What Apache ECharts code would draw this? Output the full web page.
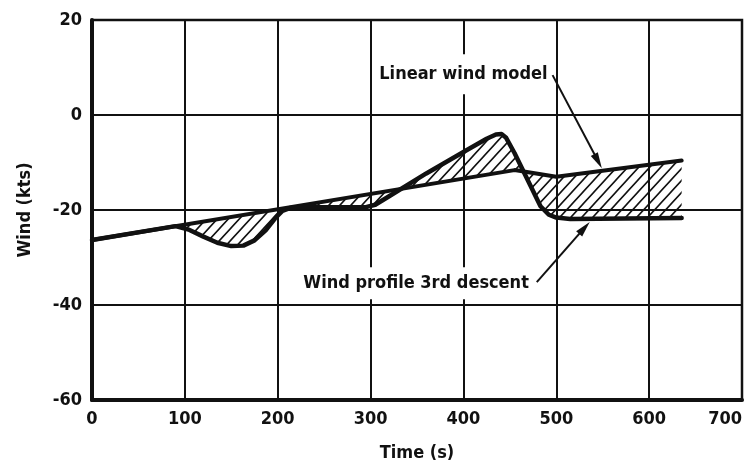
<!DOCTYPE html>
<html>
<head>
<meta charset="utf-8">
<script src="https://cdn.jsdelivr.net/npm/echarts@6/dist/echarts.min.js"></script>
<style>
  html, body { margin: 0; padding: 0; background: #fff; }
  #chart { width: 745px; height: 468px; }
</style>
</head>
<body>
<div id="chart"></div>
<script>
// Axis ticks
const timeTicks = [0, 100, 200, 300, 400, 500, 600, 700];
const windTicks = [-60, -40, -20, 0, 20];

// Linear wind model (time s, wind kts)
const linearTime = [0, 455, 500, 635];
const linearWind = [-26.3, -11.6, -13.0, -9.6];

// Measured wind profile, 3rd descent (time s, wind kts)
const profileTime = [0, 90, 105, 120, 135, 150, 163, 175, 187, 197, 205, 213, 225, 295, 305, 320, 360, 400, 425, 435, 441, 446, 455, 470, 483, 492, 500, 515, 635];
const profileWind = [-26.3, -23.4, -24.2, -25.6, -26.9, -27.6, -27.5, -26.4, -24.3, -21.8, -20.2, -19.6, -19.4, -19.4, -18.9, -17.1, -12.3, -7.8, -5.0, -4.1, -4.0, -4.8, -8.0, -14.0, -19.2, -21.0, -21.6, -21.9, -21.7];

// Callout texts and their anchors in data units
const noteTexts = ['Linear wind model', 'Wind profile 3rd descent'];
const noteAt = [[400, 8.6], [349, -35.4]];
const arrowFrom = [[496, 8.4], [479, -35.2]];
const arrowTo = [[549, -11.2], [536, -22.5]];

const FONT = "'DejaVu Sans Condensed', 'Liberation Sans Narrow', sans-serif";
const FS = 18;
const INK = '#111';

const linearData = linearTime.map((t, i) => [t, linearWind[i]]);
const profileData = profileTime.map((t, i) => [t, profileWind[i]]);

// Diagonal hatch tile
function hatchTile() {
  const w = 11, h = 12;
  const c = document.createElement('canvas');
  c.width = w; c.height = h;
  const g = c.getContext('2d');
  g.strokeStyle = INK;
  g.lineWidth = 1.6;
  g.lineCap = 'square';
  g.beginPath();
  g.moveTo(0, h); g.lineTo(w, 0);
  g.moveTo(-1, 1); g.lineTo(1, -1);
  g.moveTo(w - 1, h + 1); g.lineTo(w + 1, h - 1);
  g.stroke();
  return c;
}
const hatch = { image: hatchTile(), repeat: 'repeat' };

const chart = echarts.init(document.getElementById('chart'), null, { renderer: 'canvas' });

chart.setOption({
  animation: false,
  backgroundColor: '#fff',
  grid: {
    left: 92, right: 3, top: 20, bottom: 68,
    show: true, borderColor: INK, borderWidth: 2.5, backgroundColor: 'transparent'
  },
  xAxis: {
    type: 'value',
    min: timeTicks[0], max: timeTicks[timeTicks.length - 1], interval: 100,
    name: 'Time (s)', nameLocation: 'middle', nameGap: 44,
    nameTextStyle: { fontFamily: FONT, fontSize: FS, fontWeight: 'bold', color: INK },
    axisLine: { show: true, onZero: false, lineStyle: { color: INK, width: 4 } },
    axisTick: { show: false },
    axisLabel: {
      fontFamily: FONT, fontSize: FS, fontWeight: 'bold', color: INK, margin: 10,
      alignMaxLabel: 'right',
      formatter: v => timeTicks.includes(v) ? String(v) : ''
    },
    splitLine: { show: true, lineStyle: { color: INK, width: 2 } }
  },
  yAxis: {
    type: 'value',
    min: windTicks[0], max: windTicks[windTicks.length - 1], interval: 20,
    name: 'Wind (kts)', nameLocation: 'middle', nameGap: 58,
    nameTextStyle: { fontFamily: FONT, fontSize: FS, fontWeight: 'bold', color: INK },
    axisLine: { show: true, onZero: false, lineStyle: { color: INK, width: 4 } },
    axisTick: { show: false },
    axisLabel: {
      fontFamily: FONT, fontSize: FS, fontWeight: 'bold', color: INK, margin: 10,
      formatter: v => windTicks.includes(v) ? String(v) : ''
    },
    splitLine: { show: true, lineStyle: { color: INK, width: 2 } }
  },
  series: [
    {
      // hatched band between the profile and the linear model
      type: 'custom',
      coordinateSystem: 'cartesian2d',
      data: [0],
      z: 1,
      silent: true,
      renderItem: (params, api) => {
        const pts = profileData.map(p => api.coord(p))
          .concat(linearData.slice().reverse().map(p => api.coord(p)));
        return { type: 'polygon', shape: { points: pts }, style: { fill: hatch, stroke: null } };
      }
    },
    {
      name: 'Linear wind model',
      type: 'line',
      data: linearData,
      showSymbol: false,
      z: 3,
      lineStyle: { color: INK, width: 4, cap: 'round', join: 'round' }
    },
    {
      name: 'Wind profile 3rd descent',
      type: 'line',
      data: profileData,
      showSymbol: false,
      z: 3,
      lineStyle: { color: INK, width: 4.5, cap: 'round', join: 'round' }
    },
    {
      // callout texts
      type: 'custom',
      coordinateSystem: 'cartesian2d',
      data: noteTexts.map((_, i) => i),
      z: 4,
      silent: true,
      renderItem: (params, api) => {
        const i = params.dataIndex;
        const p = api.coord(noteAt[i]);
        return {
          type: 'text',
          x: p[0], y: p[1],
          style: {
            text: noteTexts[i],
            font: `bold ${FS}px ${FONT}`,
            fill: INK,
            align: 'center', verticalAlign: 'middle',
            backgroundColor: '#fff',
            padding: i === 0 ? [11, 6] : [7, 6]
          }
        };
      }
    },
    {
      // callout arrows
      type: 'custom',
      coordinateSystem: 'cartesian2d',
      data: arrowFrom.map((_, i) => i),
      z: 5,
      silent: true,
      renderItem: (params, api) => {
        const i = params.dataIndex;
        const a = api.coord(arrowFrom[i]);
        const b = api.coord(arrowTo[i]);
        const dx = b[0] - a[0], dy = b[1] - a[1];
        const len = Math.hypot(dx, dy);
        const ux = dx / len, uy = dy / len;
        const headL = 16, headW = 4;
        const base = [b[0] - ux * headL, b[1] - uy * headL];
        return {
          type: 'group',
          children: [
            { type: 'line', shape: { x1: a[0], y1: a[1], x2: base[0] + ux * 2, y2: base[1] + uy * 2 },
              style: { stroke: INK, lineWidth: 2 } },
            { type: 'polygon',
              shape: { points: [b, [base[0] - uy * headW, base[1] + ux * headW], [base[0] + uy * headW, base[1] - ux * headW]] },
              style: { fill: INK } }
          ]
        };
      }
    }
  ]
});
</script>
</body>
</html>
